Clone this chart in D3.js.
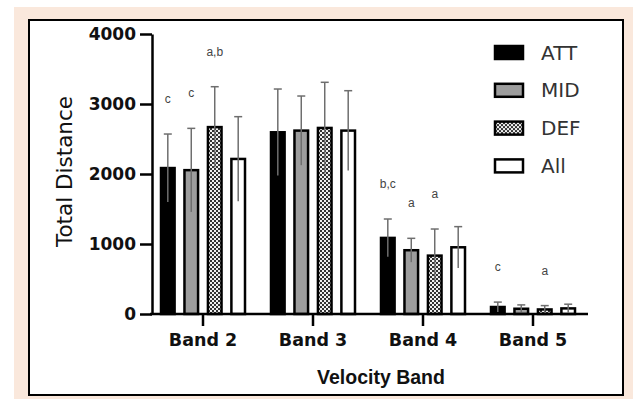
<!DOCTYPE html>
<html>
<head>
<meta charset="UTF-8">
<title>Total Distance by Velocity Band</title>
<script src="https://cdn.jsdelivr.net/npm/d3@7"></script>
<style>
  body { margin: 0; background: #fff; }
</style>
</head>
<body>
<script>
// data
var bands = ["Band 2", "Band 3", "Band 4", "Band 5"];
var series = ["ATT", "MID", "DEF", "All"];
var yTicks = [0, 1000, 2000, 3000, 4000];

var attMean = [2085, 2596, 1087, 100];
var midMean = [2055, 2620, 911, 75];
var defMean = [2670, 2658, 834, 65];
var allMean = [2215, 2620, 953, 80];

var attSd = [486, 618, 270, 70];
var midSd = [597, 494, 170, 55];
var defSd = [577, 652, 380, 55];
var allSd = [604, 570, 295, 60];

// significance letters: band, series, label
var letters = [
  ["Band 2", "ATT", "c"], ["Band 2", "MID", "c"], ["Band 2", "DEF", "a,b"],
  ["Band 4", "ATT", "b,c"], ["Band 4", "MID", "a"], ["Band 4", "DEF", "a"],
  ["Band 5", "ATT", "c"], ["Band 5", "DEF", "a"]
];

var means = { ATT: attMean, MID: midMean, DEF: defMean, All: allMean };
var sds = { ATT: attSd, MID: midSd, DEF: defSd, All: allSd };

var rows = [];
bands.forEach(function (b, i) {
  series.forEach(function (s) {
    rows.push({ band: b, series: s, mean: means[s][i], sd: sds[s][i] });
  });
});

var W = 633, H = 399;
var svg = d3.select("body").append("svg")
  .attr("width", W).attr("height", H);

// peach page background, then white panel with border
svg.append("rect")
  .attr("x", 14).attr("y", 7).attr("width", W - 14).attr("height", H - 7)
  .attr("fill", "#fae8dc");
svg.append("rect")
  .attr("x", 29).attr("y", 20).attr("width", 594).attr("height", 375)
  .attr("fill", "#fff").attr("stroke", "#000").attr("stroke-width", 2);

// checker pattern for DEF
var defs = svg.append("defs");
var pat = defs.append("pattern").attr("id", "checker")
  .attr("width", 4).attr("height", 4).attr("patternUnits", "userSpaceOnUse");
pat.append("rect").attr("width", 4).attr("height", 4).attr("fill", "#333");
pat.append("rect").attr("x", 0).attr("y", 0).attr("width", 2).attr("height", 2).attr("fill", "#f0f0f0");
pat.append("rect").attr("x", 2).attr("y", 2).attr("width", 2).attr("height", 2).attr("fill", "#f0f0f0");

var fills = { ATT: "#000", MID: "#9d9d9d", DEF: "url(#checker)", All: "#fff" };

var x = d3.scaleBand().domain(bands).range([148, 588]);
var x1 = d3.scaleBand().domain(series).range([-42, 42]).paddingInner(0.42);
var y = d3.scaleLinear().domain([0, 4000]).range([314, 34]);

function cx(d) { return x(d.band) + x.bandwidth() / 2 + x1(d.series) + x1.bandwidth() / 2; }

// bars
svg.append("g").selectAll("rect").data(rows).enter().append("rect")
  .attr("x", function (d) { return cx(d) - x1.bandwidth() / 2; })
  .attr("y", function (d) { return y(d.mean); })
  .attr("width", x1.bandwidth())
  .attr("height", function (d) { return y(0) - y(d.mean); })
  .attr("fill", function (d) { return fills[d.series]; })
  .attr("stroke", "#000").attr("stroke-width", 2.5);

// error bars
var eb = svg.append("g").attr("stroke", "#6e6e6e").attr("stroke-width", 1.5);
eb.selectAll("line.v").data(rows).enter().append("line").attr("class", "v")
  .attr("x1", cx).attr("x2", cx)
  .attr("y1", function (d) { return y(Math.max(0, d.mean - d.sd)); })
  .attr("y2", function (d) { return y(d.mean + d.sd); });
eb.selectAll("line.c").data(rows).enter().append("line").attr("class", "c")
  .attr("x1", function (d) { return cx(d) - 4; })
  .attr("x2", function (d) { return cx(d) + 4; })
  .attr("y1", function (d) { return y(d.mean + d.sd); })
  .attr("y2", function (d) { return y(d.mean + d.sd); });

// letters above error bars
svg.append("g").selectAll("text").data(letters).enter().append("text")
  .attr("x", function (l) { return cx({ band: l[0], series: l[1] }); })
  .attr("y", function (l) {
    var i = bands.indexOf(l[0]);
    return y(means[l[1]][i] + sds[l[1]][i]) - 31;
  })
  .attr("text-anchor", "middle")
  .style("font-family", "Liberation Sans")
  .style("font-size", "12px")
  .attr("fill", "#444")
  .text(function (l) { return l[2]; });

// axes
var yAxis = d3.axisLeft(y).tickValues(yTicks).tickFormat(d3.format("d"))
  .tickSize(12).tickSizeOuter(0).tickPadding(4);
var gy = svg.append("g").attr("transform", "translate(152,0)").call(yAxis);
gy.selectAll("text")
  .style("font-family", "DejaVu Sans").style("font-weight", "bold")
  .style("font-size", "17px").attr("fill", "#111");

var xAxis = d3.axisBottom(x).tickSize(12).tickSizeOuter(0).tickPadding(8);
var gx = svg.append("g").attr("transform", "translate(0,314)").call(xAxis);
gx.selectAll("text")
  .style("font-family", "DejaVu Sans").style("font-weight", "bold")
  .style("font-size", "17.5px").attr("fill", "#111");
gx.select(".domain").attr("d", "M150,0H588");

svg.selectAll(".domain, .tick line").attr("stroke", "#000").attr("stroke-width", 2.5);

// axis titles
svg.append("text")
  .attr("transform", "translate(72,171.5) rotate(-90)")
  .attr("text-anchor", "middle")
  .style("font-family", "DejaVu Sans").style("font-size", "21.5px")
  .attr("fill", "#111")
  .text("Total Distance");

svg.append("text")
  .attr("x", 381).attr("y", 384)
  .attr("text-anchor", "middle")
  .style("font-family", "Liberation Sans").style("font-weight", "bold")
  .style("font-size", "19.5px").attr("fill", "#111")
  .text("Velocity Band");

// legend
var leg = svg.append("g").selectAll("g").data(series).enter().append("g")
  .attr("transform", function (s, i) { return "translate(495," + (52.5 + i * 37.8) + ")"; });
leg.append("rect")
  .attr("x", 0).attr("y", -6.5).attr("width", 28).attr("height", 13)
  .attr("fill", function (s) { return fills[s]; })
  .attr("stroke", "#000").attr("stroke-width", 2.5);
leg.append("text")
  .attr("x", 46).attr("y", 7)
  .style("font-family", "DejaVu Sans").style("font-size", "20px")
  .attr("fill", "#333")
  .text(function (s) { return s; });
</script>
</body>
</html>
